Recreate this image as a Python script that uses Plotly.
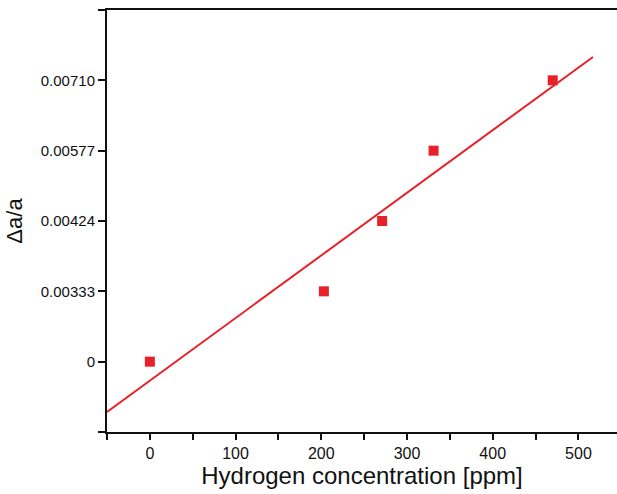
import numpy as np
import plotly.graph_objects as go

# Data
hydrogen_ppm = [0, 203, 271, 331, 470]
level_index = [0, 1, 2, 3, 4]          # plotted positions of the labelled ticks
y_tick_labels = ["0", "0.00333", "0.00424", "0.00577", "0.00710"]
x_ticks = [0, 100, 200, 300, 400, 500]

red = "#e8202a"

slope, intercept = np.polyfit(hydrogen_ppm, level_index, 1)
fit_x = np.array([-50, 517])
fit_y = slope * fit_x + intercept

fig = go.Figure()
fig.add_trace(go.Scatter(x=fit_x, y=fit_y, mode="lines",
                         line=dict(color=red, width=2), showlegend=False))
fig.add_trace(go.Scatter(x=hydrogen_ppm, y=level_index, mode="markers",
                         marker=dict(symbol="square", size=10, color=red),
                         showlegend=False))

font = "Liberation Sans, Arial, sans-serif"
fig.update_layout(
    width=617, height=494,
    margin=dict(l=107, r=0, t=10, b=62),
    paper_bgcolor="white", plot_bgcolor="white",
    font=dict(family=font, color="#111111", size=15),
)
fig.update_xaxes(
    range=[-50, 545], tickvals=x_ticks, ticktext=[str(v) for v in x_ticks],
    ticks="outside", ticklen=6, tickwidth=2, tickcolor="#111",
    minor=dict(dtick=50, tick0=-50, ticks="outside", ticklen=6, tickwidth=2, tickcolor="#111"),
    showline=True, linewidth=2, linecolor="#111", mirror=True,
    showgrid=False, zeroline=False,
    tickfont=dict(size=16),
    title=dict(text="Hydrogen concentration [ppm]", font=dict(size=24), standoff=6),
)
fig.update_yaxes(
    range=[-1, 5],
    tickvals=[-1] + level_index + [5], ticktext=[""] + y_tick_labels + [""],
    ticks="outside", ticklen=7, tickwidth=2, tickcolor="#111",
    showline=True, linewidth=2, linecolor="#111", mirror=False,
    showgrid=False, zeroline=False,
    tickfont=dict(size=15),
    title=dict(text="Δa/a", font=dict(size=22), standoff=12),
)

fig.write_html(
    "out.html",
    config={"displayModeBar": False},
    post_script="document.body.style.margin='0';document.body.style.overflow='hidden';",
)
